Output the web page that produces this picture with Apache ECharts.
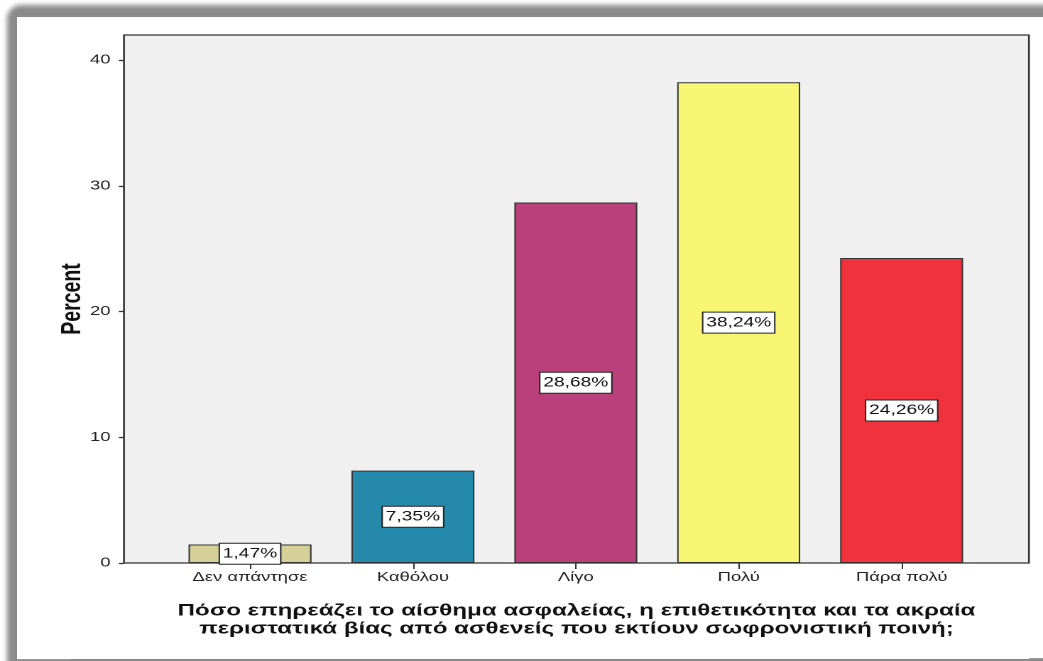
<!DOCTYPE html>
<html>
<head>
<meta charset="utf-8">
<script src="https://cdn.jsdelivr.net/npm/echarts@6/dist/echarts.min.js"></script>
<style>
  html, body { margin: 0; padding: 0; background: #ffffff; }
  #page { position: relative; width: 1043px; height: 661px; overflow: hidden; background: #ffffff; }
  #shade { position: absolute; left: 7px; top: 5px; width: 1100px; height: 720px;
           background: #8a8a8a; border-radius: 14px; filter: blur(2.5px); }
  #panel { position: absolute; left: 17px; top: 17px; width: 1100px; height: 642px; background: #ffffff; }
  .edge { position: absolute; height: 1px; background: #9a9a9a; top: 659px; }
  /* the chart is laid out narrow and widened horizontally, as exported */
  #chart { position: absolute; left: 0; top: 0; width: 734.5px; height: 661px;
           transform: scaleX(1.42); transform-origin: 0 0; }
</style>
</head>
<body>
<div id="page">
  <div id="shade"></div>
  <div id="panel"></div>
  <div class="edge" style="left:17px;width:53px"></div>
  <div class="edge" style="left:1029px;width:14px;top:658px"></div>
  <div id="chart"></div>
</div>
<script>
// Response categories and their percentages
const categories = ['Δεν απάντησε', 'Καθόλου', 'Λίγο', 'Πολύ', 'Πάρα πολύ'];
const percents = [1.47, 7.35, 28.68, 38.24, 24.26];
const barColors = ['#d5cf98', '#2589ab', '#b9407b', '#f8f574', '#f0323c'];
const yTicks = [0, 10, 20, 30, 40];
const yAxisTitle = 'Percent';
const xAxisTitle = 'Πόσο επηρεάζει το αίσθημα ασφαλείας, η επιθετικότητα και τα ακραία\nπεριστατικά βίας από ασθενείς που εκτίουν σωφρονιστική ποινή;';

const FONT = '"Liberation Sans", Arial, sans-serif';
const chart = echarts.init(document.getElementById('chart'), null, { renderer: 'canvas', devicePixelRatio: 2 });

const fmt = v => v.toFixed(2).replace('.', ',') + '%';

chart.setOption({
  animation: false,
  backgroundColor: 'transparent',
  grid: [
    // framed plot area
    { left: 87.3, top: 35, width: 637.3, height: 528, show: true,
      backgroundColor: '#f0f0f0', borderColor: '#333333', borderWidth: 1.3, z: 0 },
    // inner band holding the bars
    { left: 118.7, top: 35, width: 573.6, height: 528 }
  ],
  xAxis: [
    { gridIndex: 0, type: 'value', min: 0, max: 1,
      axisLine: { show: false }, axisTick: { show: false }, axisLabel: { show: false },
      splitLine: { show: false },
      name: xAxisTitle, nameLocation: 'middle', nameGap: 39, nameMoveOverlap: false,
      nameTextStyle: { fontFamily: FONT, fontSize: 17, fontWeight: 'bold', color: '#111111',
                       lineHeight: 18, align: 'center', verticalAlign: 'top' } },
    { gridIndex: 1, type: 'category', data: categories,
      axisLine: { show: false },
      axisTick: { show: true, alignWithLabel: true, length: 6, lineStyle: { color: '#333333', width: 1 } },
      axisLabel: { fontFamily: FONT, fontSize: 13, color: '#222222', margin: 8 } }
  ],
  yAxis: [
    { gridIndex: 0, type: 'value', min: 0, max: 42,
      axisLine: { show: false },
      axisTick: { show: true, length: 3.6, customValues: yTicks, lineStyle: { color: '#333333', width: 1.3 } },
      axisLabel: { customValues: yTicks, fontFamily: FONT, fontSize: 13, color: '#222222', margin: 9.5 },
      splitLine: { show: false },
      name: yAxisTitle, nameLocation: 'middle', nameGap: 26, nameRotate: 90, nameMoveOverlap: false,
      nameTextStyle: { fontFamily: FONT, fontSize: 19.5, fontWeight: 'bold', color: '#111111' } },
    { gridIndex: 1, type: 'value', min: 0, max: 42, show: false, splitLine: { show: false } }
  ],
  series: [{
    type: 'bar',
    xAxisIndex: 1, yAxisIndex: 1,
    barWidth: 86.6,
    data: percents.map((v, i) => ({
      value: v,
      itemStyle: { color: barColors[i], borderColor: '#333333', borderWidth: 1 }
    })),
    label: {
      show: true, position: 'inside',
      formatter: p => fmt(p.value),
      fontFamily: FONT, fontSize: 13.5, color: '#111111',
      backgroundColor: '#ffffff', borderColor: '#222222', borderWidth: 1,
      padding: [3, 2, 3, 2]
    },
    z: 3
  }]
});
</script>
</body>
</html>
